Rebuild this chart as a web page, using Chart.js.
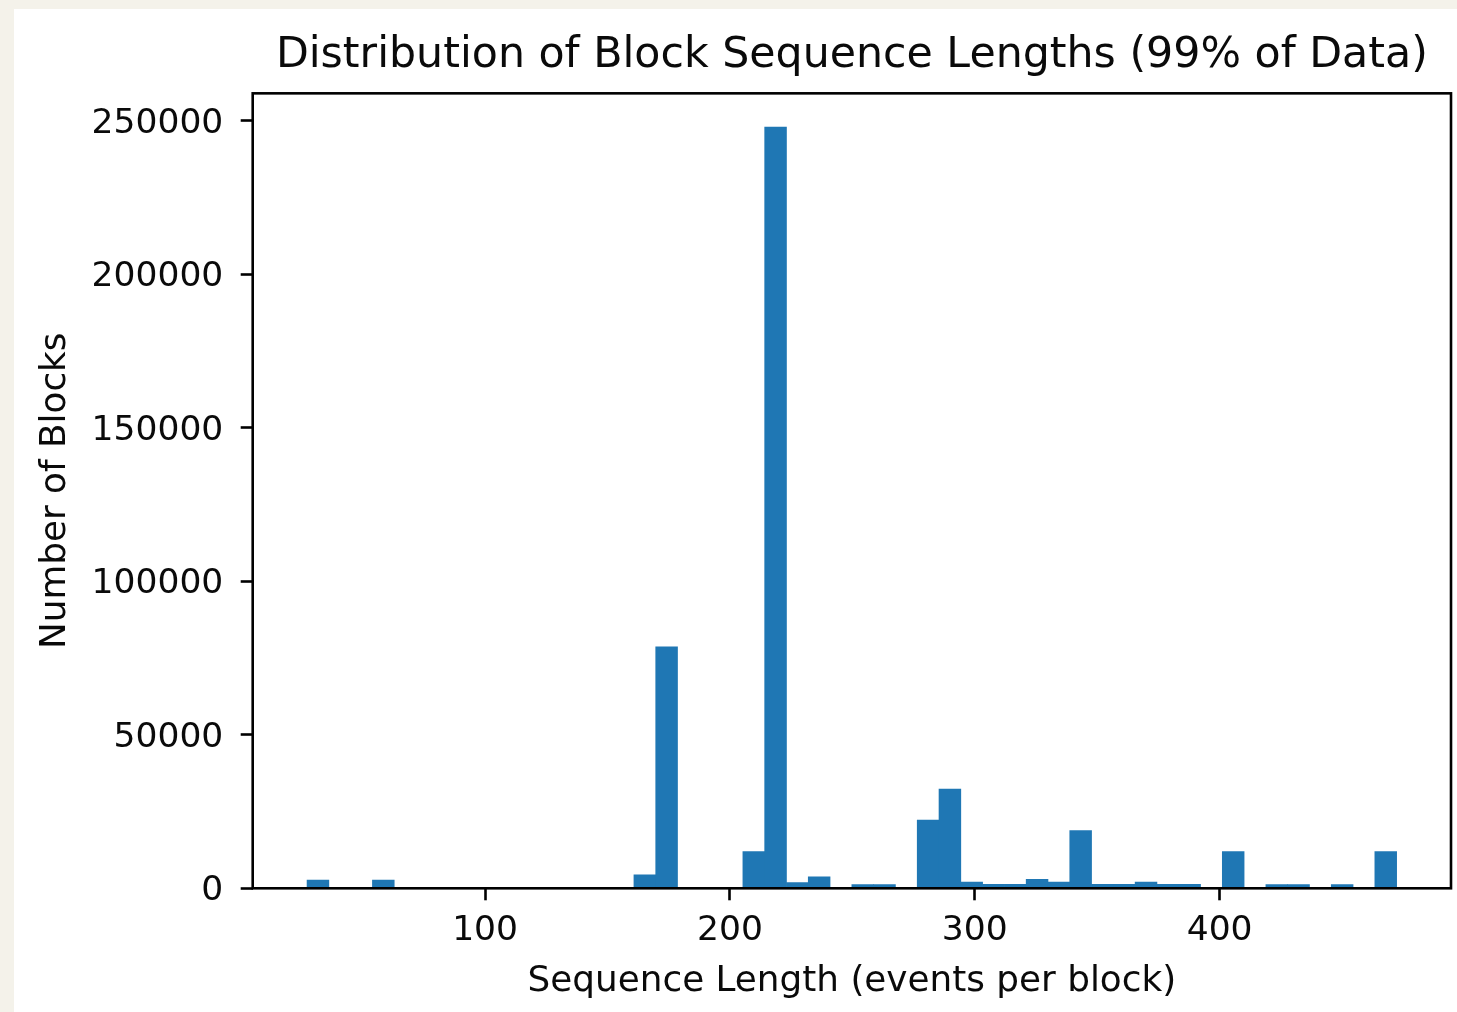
<!DOCTYPE html>
<html>
<head>
<meta charset="utf-8">
<script src="https://cdn.jsdelivr.net/npm/chart.js@4/dist/chart.umd.min.js"></script>
<style>
  html, body { margin: 0; padding: 0; overflow: hidden; background: #f4f2ea; }
  #wrap { position: absolute; left: 14px; top: 9px; width: 1443px; height: 1003px; background: #fff; }
</style>
</head>
<body>
<div id="wrap"><canvas id="histChart"></canvas></div>
<script>
// histogram bins (centres), 50 bins of ~8.9 events
var binCenters = [31.75, 40.65, 49.55, 58.45, 67.35, 76.25, 85.15, 94.05, 102.95, 111.85,
  120.75, 129.65, 138.55, 147.45, 156.35, 165.25, 174.15, 183.05, 191.95, 200.85,
  209.75, 218.65, 227.55, 236.45, 245.35, 254.25, 263.15, 272.05, 280.95, 289.85,
  298.75, 307.65, 316.55, 325.45, 334.35, 343.25, 352.15, 361.05, 369.95, 378.85,
  387.75, 396.65, 405.55, 414.45, 423.35, 432.25, 441.15, 450.05, 458.95, 467.85];

var blockCounts = [2700, 0, 0, 2700, 0, 0, 0, 0, 0, 0,
  0, 0, 0, 0, 0, 4400, 78700, 0, 0, 0,
  12000, 248000, 1900, 3700, 0, 1200, 1200, 0, 22200, 32300,
  2000, 1300, 1300, 2900, 2000, 18800, 1300, 1300, 2000, 1300,
  1300, 0, 12000, 0, 1200, 1200, 0, 1200, 0, 12000];

var xTicks = [100, 200, 300, 400];
var yTicks = [0, 50000, 100000, 150000, 200000, 250000];

var fontFamily = "'DejaVu Sans', sans-serif";
var textColor = '#0a0a0a';

// matplotlib style box around the plot area
var frame = {
  id: 'frame',
  afterDatasetsDraw: function(chart) {
    var a = chart.chartArea, c = chart.ctx;
    c.save();
    c.strokeStyle = '#000';
    c.lineWidth = 2.6;
    c.strokeRect(a.left, a.top, a.right - a.left, a.bottom - a.top);
    c.restore();
  }
};

var points = binCenters.map(function(x, i) { return { x: x, y: blockCounts[i] }; });

var ctx = document.getElementById('histChart').getContext('2d');
var histChart = new Chart(ctx, {
  type: 'bar',
  data: {
    datasets: [{
      label: 'Number of Blocks',
      data: points,
      backgroundColor: '#1f77b4',
      borderWidth: 0,
      barPercentage: 1,
      categoryPercentage: 1
    }]
  },
  options: {
    responsive: true,
    maintainAspectRatio: false,
    animation: false,
    layout: { padding: { left: 20, right: 6, top: 0, bottom: 0 } },
    plugins: {
      legend: { display: false },
      tooltip: { enabled: false },
      title: {
        display: true,
        text: 'Distribution of Block Sequence Lengths (99% of Data)',
        color: textColor,
        fullSize: false,
        font: { family: fontFamily, size: 42.7, weight: 'normal' },
        padding: { top: 21.7, bottom: 11.4 }
      }
    },
    scales: {
      x: {
        type: 'linear',
        min: 5.1,
        max: 494.5,
        offset: false,
        afterBuildTicks: function(s) { s.ticks = xTicks.map(function(v) { return { value: v }; }); },
        afterFit: function(s) { s.height = 123.7; },
        grid: { offset: false, drawOnChartArea: false, drawTicks: true, tickLength: 12, tickWidth: 2.6, tickColor: '#000' },
        border: { display: false },
        ticks: {
          color: textColor,
          padding: 10.3,
          maxRotation: 0,
          font: { family: fontFamily, size: 34.5 },
          callback: function(v) { return String(v); }
        },
        title: {
          display: true,
          text: 'Sequence Length (events per block)',
          color: textColor,
          font: { family: fontFamily, size: 35.8 },
          padding: { top: 0, bottom: 8.5 }
        }
      },
      y: {
        min: 0,
        max: 259000,
        afterBuildTicks: function(s) { s.ticks = yTicks.map(function(v) { return { value: v }; }); },
        afterFit: function(s) { s.width = 218.7; },
        grid: { drawOnChartArea: false, drawTicks: true, tickLength: 12, tickWidth: 2.6, tickColor: '#000' },
        border: { display: false },
        ticks: {
          color: textColor,
          padding: 17.4,
          labelOffset: 3,
          font: { family: fontFamily, size: 34.5 },
          callback: function(v) { return String(v); }
        },
        title: {
          display: true,
          text: 'Number of Blocks',
          color: textColor,
          font: { family: fontFamily, size: 35.8 },
          padding: { top: 0, bottom: 0 }
        }
      }
    }
  },
  plugins: [frame]
});
</script>
</body>
</html>
